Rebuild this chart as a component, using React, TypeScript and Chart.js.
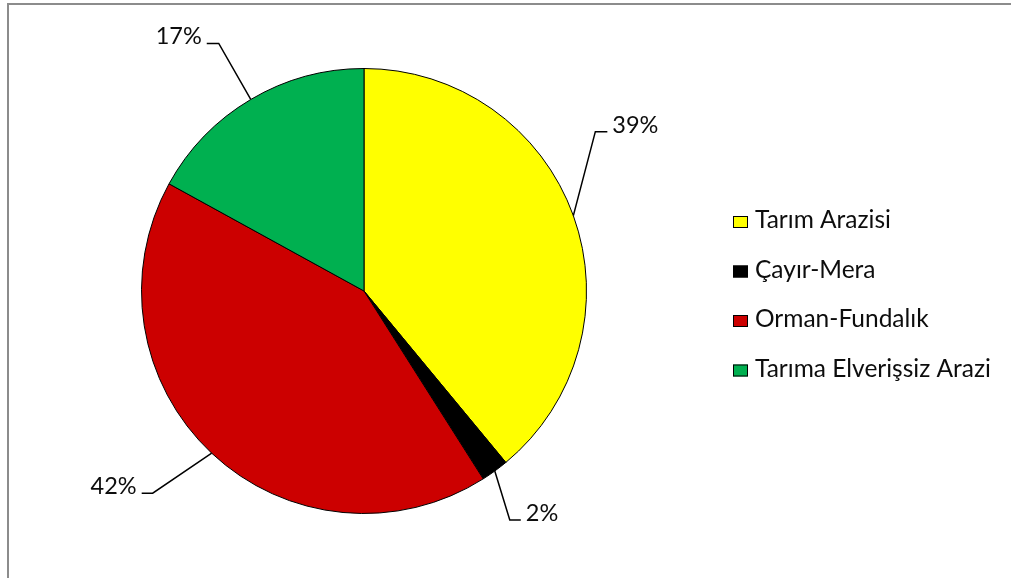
import React, { useEffect, useRef } from "react";
import { Chart, registerables } from "chart.js";

Chart.register(...registerables);

const categories = ["Tarım Arazisi", "Çayır-Mera", "Orman-Fundalık", "Tarıma Elverişsiz Arazi"];
const shares = [39, 2, 42, 17];
const percentLabels = ["39%", "2%", "42%", "17%"];
const sliceColors = ["#FFFF00", "#000000", "#CC0000", "#00B050"];

// leader-line layout (elbow offset from slice edge, horizontal run)
const leaderLayout = [
  { dx: 22, dy: -84, run: 12 },
  { dx: 15, dy: 49, run: 11 },
  { dx: -59, dy: 40, run: -11 },
  { dx: -32, dy: -56, run: -12 },
];

const LEGEND_FONT = "24.5px Lato, 'Open Sans', sans-serif";
const LABEL_FONT = "23.5px Lato, 'Open Sans', sans-serif";
const TEXT_COLOR = "#0d0d0d";

const labelsPlugin = {
  id: "leaderLabels",
  afterDatasetsDraw(chart: any) {
    const ctx = chart.ctx;
    const meta = chart.getDatasetMeta(0);
    ctx.save();
    meta.data.forEach((arc: any, i: number) => {
      const p = arc.getProps(["x", "y", "startAngle", "endAngle", "outerRadius"], true);
      const mid = (p.startAngle + p.endAngle) / 2;
      const ex = p.x + Math.cos(mid) * p.outerRadius;
      const ey = p.y + Math.sin(mid) * p.outerRadius;
      const L = leaderLayout[i];
      const bx = ex + L.dx;
      const by = ey + L.dy;
      const hx = bx + L.run;
      ctx.beginPath();
      ctx.strokeStyle = "#000000";
      ctx.lineWidth = 1.5;
      ctx.moveTo(ex, ey);
      ctx.lineTo(bx, by);
      ctx.lineTo(hx, by);
      ctx.stroke();
      ctx.font = LABEL_FONT;
      ctx.fillStyle = TEXT_COLOR;
      ctx.textBaseline = "alphabetic";
      if (L.run > 0) {
        ctx.textAlign = "left";
        ctx.fillText(percentLabels[i], hx + 5, by + 1);
      } else {
        ctx.textAlign = "right";
        ctx.fillText(percentLabels[i], hx - 5, by + 1);
      }
    });
    ctx.restore();
  },
  afterDraw(chart: any) {
    const ctx = chart.ctx;
    ctx.save();
    const boxX = 733;
    const boxW = 15;
    const boxH = 12;
    const top0 = 216;
    const step = 49.5;
    categories.forEach((name, i) => {
      const top = top0 + i * step;
      ctx.fillStyle = sliceColors[i];
      ctx.fillRect(boxX, top, boxW, boxH);
      ctx.strokeStyle = "#000000";
      ctx.lineWidth = 1;
      ctx.strokeRect(boxX + 0.5, top + 0.5, boxW - 1, boxH - 1);
      ctx.font = LEGEND_FONT;
      ctx.fillStyle = TEXT_COLOR;
      ctx.textAlign = "left";
      ctx.textBaseline = "alphabetic";
      ctx.fillText(name, 755, top + boxH);
    });
    ctx.restore();
  },
};

export default function App() {
  const ref = useRef<HTMLCanvasElement | null>(null);
  useEffect(() => {
    if (!ref.current) return;
    const chart = new Chart(ref.current, {
      type: "pie",
      data: {
        labels: categories,
        datasets: [
          {
            data: shares,
            backgroundColor: sliceColors,
            borderColor: "#000000",
            borderWidth: 1,
          },
        ],
      },
      options: {
        responsive: false,
        animation: false,
        layout: { padding: { top: 68, bottom: 64, left: 141, right: 424 } },
        plugins: {
          legend: { display: false },
          tooltip: { enabled: false },
        },
      },
      plugins: [labelsPlugin],
    });
    return () => chart.destroy();
  }, []);

  return (
    <div style={{ position: "fixed", left: 0, top: 0, width: 1011, height: 578, overflow: "hidden", background: "#ffffff" }}>
      <div
        style={{
          position: "absolute",
          left: 7,
          top: 3,
          width: 1100,
          height: 700,
          border: "2px solid #8c8c8c",
          boxSizing: "border-box",
        }}
      />
      <canvas ref={ref} width={1011} height={578} style={{ position: "absolute", left: 0, top: 0 }} />
    </div>
  );
}
